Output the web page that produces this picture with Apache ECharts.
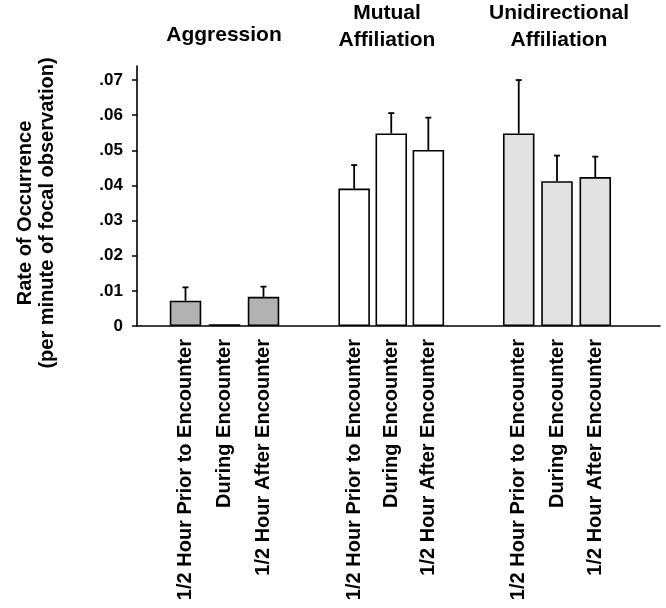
<!DOCTYPE html>
<html>
<head>
<meta charset="utf-8">
<script src="https://cdn.jsdelivr.net/npm/echarts@6/dist/echarts.min.js"></script>
<style>
html,body{margin:0;padding:0;background:#fff;}
#chart{width:666px;height:608px;}
</style>
</head>
<body>
<div id="chart"></div>
<script>
// ---- data ----
var categories = ['1/2 Hour Prior to Encounter', 'During Encounter', '1/2 Hour After Encounter'];
var groupTitles = ['Aggression', 'Mutual\nAffiliation', 'Unidirectional\nAffiliation'];
var aggression = [0.0072, 0.0005, 0.0083];
var aggressionUpper = [0.0110, null, 0.0112];
var mutual = [0.0391, 0.0548, 0.0501];
var mutualUpper = [0.0458, 0.0606, 0.0593];
var unidirectional = [0.0548, 0.0412, 0.0424];
var unidirectionalUpper = [0.0700, 0.0485, 0.0482];
var yTickValues = [0, 0.01, 0.02, 0.03, 0.04, 0.05, 0.06, 0.07];
var yTickLabels = ['0', '.01', '.02', '.03', '.04', '.05', '.06', '.07'];
var yAxisTitle = 'Rate of Occurrence\n(per minute of focal observation)';

var FONT = '"Liberation Sans", Arial, Helvetica, sans-serif';
var groupValues = [aggression, mutual, unidirectional];
var groupUpper = [aggressionUpper, mutualUpper, unidirectionalUpper];
var groupFill = ['#b2b2b2', '#ffffff', '#e2e2e2'];
var groupGrids = [
  {left: 166, width: 117},
  {left: 335.6, width: 111.3},
  {left: 499.6, width: 114.8}
];
var titleCenters = [224, 387, 559];
var titleTops = [22, 0, 0];

var chart = echarts.init(document.getElementById('chart'), null, {renderer: 'canvas'});

var grids = [{left: 137, right: 6, top: 66, bottom: 282}];
var xAxes = [{
  gridIndex: 0, type: 'category', data: [''],
  axisLine: {show: true, lineStyle: {color: '#000', width: 1.6}},
  axisTick: {show: false}, axisLabel: {show: false}
}];
var yMax = 0.074;
var yAxes = [{
  gridIndex: 0, type: 'value', min: 0, max: yMax,
  axisLine: {show: true, lineStyle: {color: '#000', width: 1.6}},
  axisTick: {show: true, length: 5, lineStyle: {color: '#000', width: 1.5}, customValues: yTickValues},
  axisLabel: {
    show: true, margin: 14, color: '#000', fontSize: 17, fontWeight: 'bold', fontFamily: FONT,
    customValues: yTickValues,
    formatter: function (v) {
      for (var i = 0; i < yTickValues.length; i++) {
        if (Math.abs(yTickValues[i] - v) < 1e-9) return yTickLabels[i];
      }
      return '';
    }
  },
  splitLine: {show: false}
}];
var series = [];

function errorRender(params, api) {
  var up = api.value(2);
  if (up == null || isNaN(up)) return;
  var base = api.coord([api.value(0), api.value(1)]);
  var top = api.coord([api.value(0), up]);
  var cap = 3;
  return {
    type: 'group',
    children: [
      {type: 'line', shape: {x1: base[0], y1: base[1], x2: top[0], y2: top[1]},
       style: {stroke: '#000', lineWidth: 1.8}},
      {type: 'line', shape: {x1: top[0] - cap, y1: top[1], x2: top[0] + cap, y2: top[1]},
       style: {stroke: '#000', lineWidth: 1.8}}
    ]
  };
}

for (var g = 0; g < 3; g++) {
  var gi = g + 1;
  grids.push({left: groupGrids[g].left, width: groupGrids[g].width, top: 66, bottom: 282});
  xAxes.push({
    gridIndex: gi, type: 'category', data: categories,
    axisLine: {show: false}, axisTick: {show: false},
    axisLabel: {
      interval: 0, rotate: 90, margin: 13, color: '#000',
      fontSize: 20, fontWeight: 'bold', fontFamily: FONT
    }
  });
  yAxes.push({
    gridIndex: gi, type: 'value', min: 0, max: yMax, show: false, splitLine: {show: false}
  });
  series.push({
    type: 'bar', xAxisIndex: gi, yAxisIndex: gi,
    data: groupValues[g], barWidth: 31.5,
    itemStyle: {color: groupFill[g], borderColor: '#000', borderWidth: 1.6},
    silent: true, animation: false, z: 3
  });
  var errData = [];
  for (var k = 0; k < categories.length; k++) {
    errData.push([k, groupValues[g][k], groupUpper[g][k]]);
  }
  series.push({
    type: 'custom', xAxisIndex: gi, yAxisIndex: gi,
    renderItem: errorRender, data: errData,
    encode: {x: 0, y: [1, 2]},
    silent: true, animation: false, z: 2
  });
}

var graphics = [];
for (var t = 0; t < groupTitles.length; t++) {
  graphics.push({
    type: 'text', x: titleCenters[t], y: titleTops[t],
    style: {
      text: groupTitles[t], textAlign: 'center', textVerticalAlign: 'top',
      font: 'bold 21px ' + FONT, lineHeight: 27, fill: '#000'
    }
  });
}
graphics.push({
  type: 'text', x: 36, y: 213, rotation: Math.PI / 2,
  style: {
    text: yAxisTitle, textAlign: 'center', textVerticalAlign: 'middle',
    font: 'bold 20px ' + FONT, lineHeight: 22, fill: '#000'
  }
});

chart.setOption({
  animation: false,
  backgroundColor: '#fff',
  grid: grids,
  xAxis: xAxes,
  yAxis: yAxes,
  series: series,
  graphic: graphics
});
</script>
</body>
</html>
